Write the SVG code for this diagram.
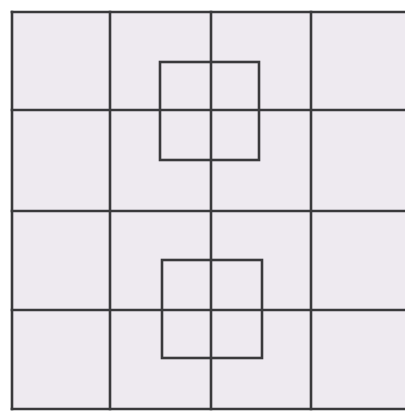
<svg xmlns="http://www.w3.org/2000/svg" width="405" height="411" viewBox="0 0 405 411">
<style>
.ln{stroke:#3a3a3c;stroke-width:2.6;fill:none;stroke-linecap:square}
</style>
<rect x="0" y="0" width="405" height="411" fill="#ffffff"/>
<rect x="12" y="12" width="393" height="397" fill="#eeeaf0"/>
<g id="grid">
<path class="ln" d="M12,12 H405 M12,110 H405 M12,211 H405 M12,310 H405 M12,409 H405"/>
<path class="ln" d="M12,12 V409 M110,12 V409 M211,12 V409 M311,12 V409"/>
</g>
<g id="square-top">
<rect class="ln" x="160" y="62" width="99" height="98"/>
</g>
<g id="square-bottom">
<rect class="ln" x="162" y="260" width="100" height="98"/>
</g>
</svg>
